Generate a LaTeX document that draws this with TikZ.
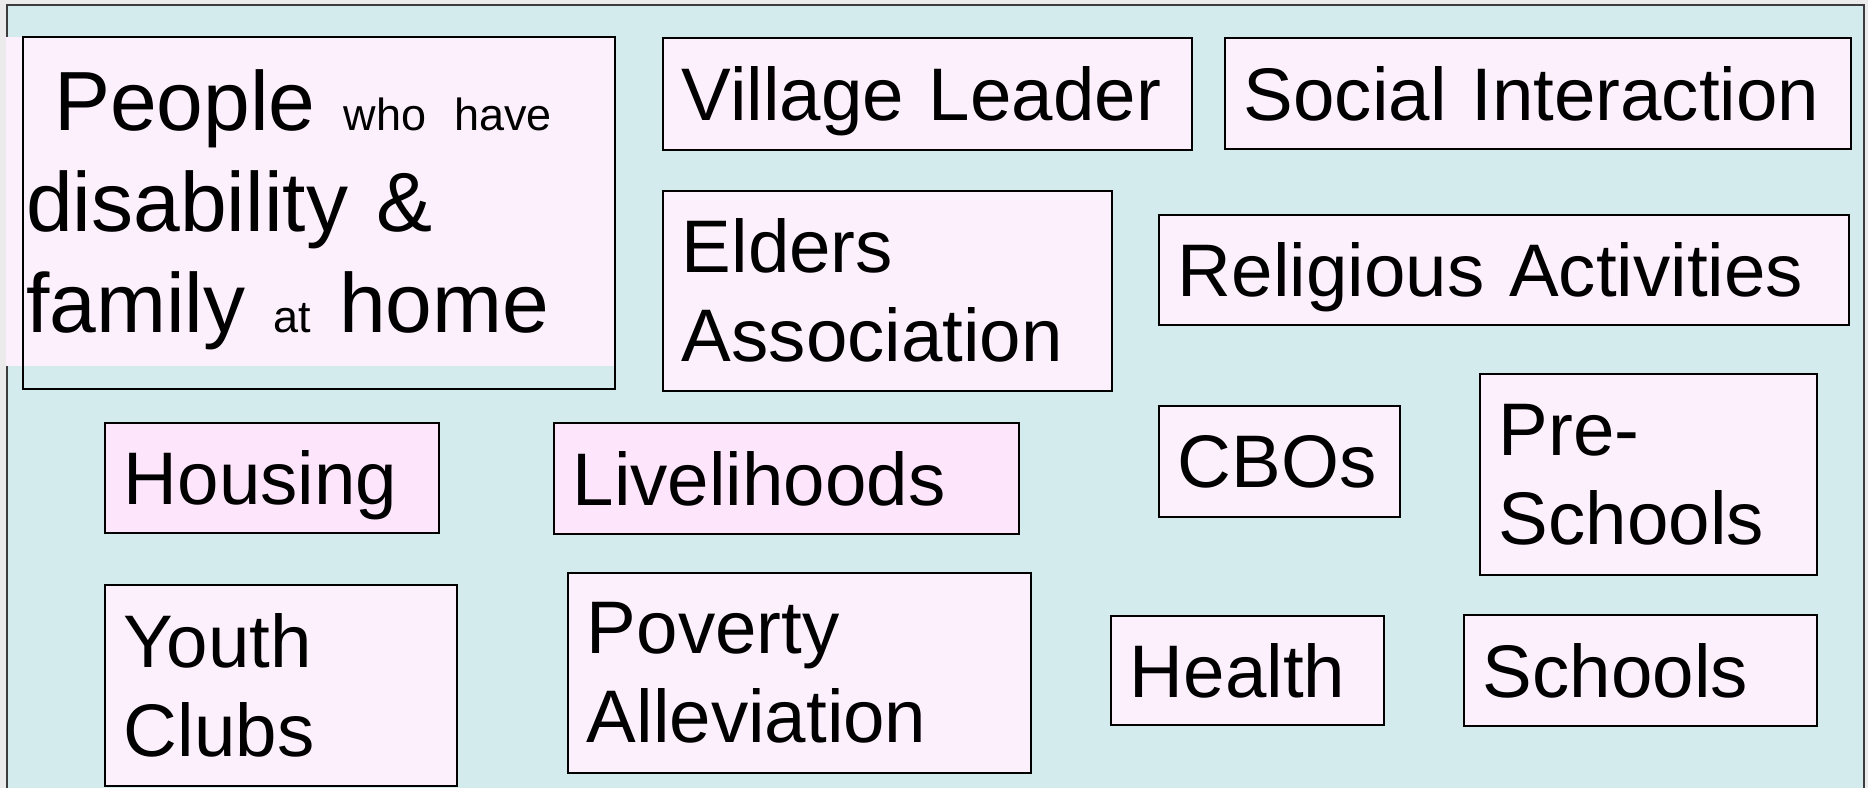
\documentclass[tikz,border=0pt]{standalone}
\usepackage{fontspec}
\setmainfont{Liberation Sans}
\usetikzlibrary{positioning}
\definecolor{pagegray}{HTML}{EBEBEB}
\definecolor{slidebg}{HTML}{D3EBEC}
\definecolor{boxpink}{HTML}{FDF0FD}
\definecolor{deeppink}{HTML}{FDE6FB}
\definecolor{framegray}{HTML}{3C3C3C}
\tikzset{
  boxsize/.code 2 args={\pgfmathsetlengthmacro\boxtw{#1-38pt}%
    \pgfkeysalso{minimum width=#1, minimum height=#2, text width/.expanded=\boxtw}},
  factor/.style n args={3}{rectangle, draw=black, line width=1.8pt, fill=#3,
    anchor=north west, inner xsep=19pt, inner ysep=0pt, boxsize={#1}{#2},
    align=left, text depth=0pt, font=\fontsize{74.5}{89}\selectfont},
  twoline/.style={text depth={}},
}

\begin{document}
\begin{tikzpicture}[x=1pt, y=-1pt]
        \useasboundingbox (0,0) rectangle (1868,788);
        \fill[pagegray] (0,0) rectangle (1868,788);
        \fill[slidebg] (7,5) rectangle (1864,788);
        \draw[framegray, line width=1.6pt] (7,788) -- (7,5) -- (1864,5) -- (1864,788);

        % top left box: text panel and its frame sit slightly apart
        \node[fill=boxpink, anchor=north west, inner xsep=20pt, inner ysep=0pt,
              minimum width=608pt, minimum height=329pt, text width=568pt, align=left,
              font=\fontsize{84}{101}\selectfont] (people) at (6,37)
              {~People {\fontsize{45}{101}\selectfont who have}\\
               disability \&\\
               \smash{family} {\fontsize{45}{101}\selectfont at} home};
        \draw[line width=1.8pt] (23,37) rectangle (615,389);

        \node[factor={529pt}{112pt}{boxpink}] (village) at (662,37) {Village Leader};
        \node[factor={626pt}{111pt}{boxpink}, right=31pt of village.north east,
              anchor=north west] (social) {Social Interaction};
        \node[factor={449pt}{200pt}{boxpink}, twoline, below=39pt of village.south west,
              anchor=north west] (elders) {Elders\\Association};
        \node[factor={690pt}{110pt}{boxpink}] (religious) at (1158,214) {Religious Activities};

        \node[factor={334pt}{110pt}{deeppink}] (housing) at (104,422) {Housing};
        \node[factor={465pt}{111pt}{deeppink}, right=113pt of housing.north east,
              anchor=north west] (livelihoods) {Livelihoods};
        \node[factor={241pt}{111pt}{boxpink}] (cbos) at (1158,405) {CBOs};
        \node[factor={337pt}{201pt}{boxpink}, twoline] (preschools) at (1479,373) {Pre-\\Schools};

        \node[factor={352pt}{201pt}{boxpink}, twoline, below=50pt of housing.south west,
              anchor=north west] (youth) {Youth\\Clubs};
        \node[factor={463pt}{200pt}{boxpink}, twoline] (poverty) at (567,572) {Poverty\\Alleviation};
        \node[factor={273pt}{109pt}{boxpink}] (health) at (1110,615) {Health};
        \node[factor={353pt}{111pt}{boxpink}] (schools) at (1463,614) {Schools};
\end{tikzpicture}
\end{document}
